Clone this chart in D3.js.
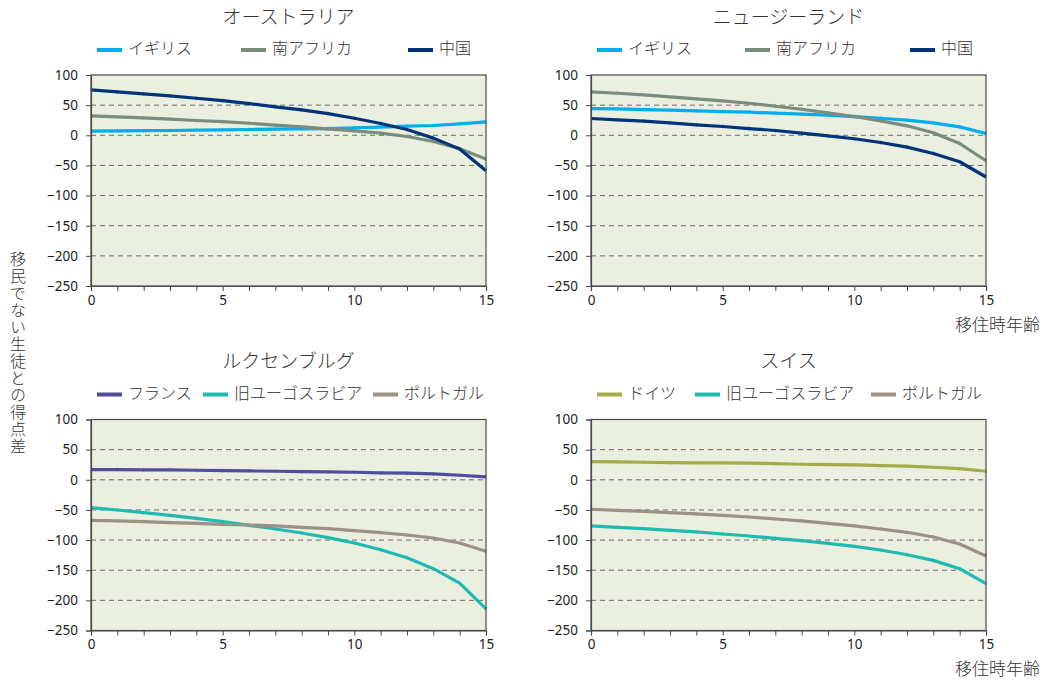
<!DOCTYPE html>
<html><head><meta charset="utf-8">
<script src="https://cdn.jsdelivr.net/npm/d3@7"></script>
<style>body{margin:0;background:#fff} svg{display:block}</style>
</head><body><svg id="c" width="1043" height="680"></svg>
<script>
// ---------- data ----------
const ages = [0,1,2,3,4,5,6,7,8,9,10,11,12,13,14,15];
const xTickLabels = [0,5,10,15];
const yTicks = [100,50,0,-50,-100,-150,-200,-250];
const gridValues = [50,0,-50,-100,-150,-200];
const titles = ["オーストラリア","ニュージーランド","ルクセンブルグ","スイス"];
const xAxisTitle = "移住時年齢";
const yAxisTitle = "移民でない生徒との得点差";

const namesTop = ["イギリス","南アフリカ","中国"];
const namesLux = ["フランス","旧ユーゴスラビア","ポルトガル"];
const namesSwi = ["ドイツ","旧ユーゴスラビア","ポルトガル"];

const aus_uk = [6.8,7.4,7.6,7.9,8.4,9.0,9.6,10.1,10.7,11.2,12.3,13.4,15.1,16.2,19.0,22.3];
const aus_za = [32.2,30.5,28.9,26.7,24.5,22.8,20.0,16.8,14.0,10.7,7.4,3.5,-2.0,-10.3,-22.4,-39.5];
const aus_cn = [75.2,71.9,68.6,65.3,61.4,57.6,52.6,47.1,42.1,36.0,28.3,19.5,9.6,-4.7,-22.9,-58.8];

const nz_uk = [44.3,43.8,42.7,41.6,40.5,39.4,38.3,36.6,35.0,33.3,31.1,28.3,25.0,20.6,14.0,3.0];
const nz_za = [71.9,69.7,66.9,63.6,60.3,57.0,53.1,48.2,43.2,37.2,31.1,24.0,15.7,4.1,-13.6,-42.2];
const nz_cn = [27.8,25.6,23.4,20.6,17.3,14.6,11.2,7.9,3.5,-0.9,-5.8,-11.9,-19.6,-30.1,-43.9,-69.2];

const lux_fr = [16.9,16.9,16.4,16.4,15.8,15.3,14.7,14.2,13.6,13.1,12.5,11.4,10.9,9.7,7.5,4.8];
const lux_yu = [-46.2,-50.1,-54.5,-59.0,-63.9,-69.4,-75.5,-81.6,-88.3,-96.0,-104.9,-116.0,-129.2,-147.5,-171.3,-214.0];
const lux_pt = [-67.2,-68.3,-69.4,-71.1,-72.2,-73.9,-75.0,-76.6,-78.8,-81.0,-84.4,-87.7,-91.6,-96.6,-104.9,-118.7];

const swi_de = [30.2,29.7,29.1,28.6,28.0,28.0,27.5,26.9,25.8,25.3,24.7,23.6,22.5,20.8,18.6,14.2];
const swi_yu = [-76.6,-78.8,-81.0,-83.8,-86.5,-89.9,-93.2,-97.1,-101.0,-105.4,-110.4,-116.5,-124.3,-133.7,-147.5,-172.4];
const swi_pt = [-48.9,-50.6,-52.3,-54.5,-56.7,-59.0,-61.7,-65.0,-68.3,-72.2,-76.6,-81.6,-87.1,-94.9,-106.5,-126.4];

// ---------- styles / layout ----------
const C = {uk:"#00aeef", za:"#7a8c7e", cn:"#003478", fr:"#514c9f", yu:"#1fbab2", pt:"#9c9186", de:"#a2ad48"};
const panels = [
  {title:titles[0], names:namesTop, colors:[C.uk,C.za,C.cn], series:[aus_uk,aus_za,aus_cn], x0:91, y0:75, leg:[6,150,317], xTitle:false},
  {title:titles[1], names:namesTop, colors:[C.uk,C.za,C.cn], series:[nz_uk,nz_za,nz_cn], x0:591, y0:75, leg:[6,154,319], xTitle:true},
  {title:titles[2], names:namesLux, colors:[C.fr,C.yu,C.pt], series:[lux_fr,lux_yu,lux_pt], x0:91, y0:419.5, leg:[6,112,282], xTitle:false},
  {title:titles[3], names:namesSwi, colors:[C.de,C.yu,C.pt], series:[swi_de,swi_yu,swi_pt], x0:591, y0:419.5, leg:[6,104,280], xTitle:true}
];
const W = 395, H = 211;
const FONT = "'Noto Sans CJK JP','Noto Sans',sans-serif";
const NUMFONT = "'Noto Sans','Open Sans',sans-serif";

const svg = d3.select("#c");
const x = d3.scaleLinear().domain([0,15]).range([0,W]);
const y = d3.scaleLinear().domain([-250,100]).range([H,0]);

panels.forEach(p => {
  const g = svg.append("g").attr("transform", `translate(${p.x0},${p.y0})`);
  // title
  svg.append("text").attr("x", p.x0 + W/2).attr("y", p.y0 - 56.5)
    .attr("text-anchor","middle").attr("dominant-baseline","middle")
    .style("font-family",FONT).style("font-size","19px").style("font-weight","300")
    .attr("fill","#333").text(p.title);
  // legend
  p.names.forEach((n,i) => {
    const lx = p.x0 + p.leg[i], ly = p.y0 - 25;
    svg.append("line").attr("x1",lx).attr("x2",lx+25).attr("y1",ly).attr("y2",ly)
      .attr("stroke",p.colors[i]).attr("stroke-width",4);
    svg.append("text").attr("x",lx+31).attr("y",ly).attr("dominant-baseline","middle")
      .style("font-family",FONT).style("font-size","16px").style("font-weight","300")
      .attr("fill","#333").text(n);
  });
  // background
  g.append("rect").attr("width",W).attr("height",H).attr("fill","#ebefe0");
  // grid
  g.selectAll(".grid").data(gridValues).enter().append("line")
    .attr("x1",0).attr("x2",W).attr("y1",d=>y(d)).attr("y2",d=>y(d))
    .attr("stroke","#6e6e6e").attr("stroke-width",1).attr("stroke-dasharray","5,4");
  // series
  const line = d3.line().x((d,i)=>x(ages[i])).y(d=>y(d));
  p.series.forEach((s,i) => {
    g.append("path").datum(s).attr("d",line).attr("fill","none")
      .attr("stroke",p.colors[i]).attr("stroke-width",3.2).attr("stroke-linejoin","round");
    g.selectAll(null).data(s).enter().append("line")
      .attr("x1",(d,j)=>x(ages[j])).attr("x2",(d,j)=>x(ages[j]))
      .attr("y1",d=>y(d)-2).attr("y2",d=>y(d)+2)
      .attr("stroke",p.colors[i]).attr("stroke-width",1).attr("opacity",0.5);
  });
  // frame
  g.append("rect").attr("width",W).attr("height",H).attr("fill","none")
    .attr("stroke","#4a4a4a").attr("stroke-width",1.2);
  // axes
  const ya = g.append("g").call(d3.axisLeft(y).tickValues(yTicks).tickSize(5).tickPadding(8));
  const xa = g.append("g").attr("transform",`translate(0,${H})`)
    .call(d3.axisBottom(x).tickValues(ages).tickSize(5).tickPadding(4)
      .tickFormat(d => xTickLabels.includes(d) ? d : ""));
  [ya,xa].forEach(a => {
    a.select(".domain").attr("stroke","#4a4a4a").attr("stroke-width",1.2);
    a.selectAll(".tick line").attr("stroke","#4a4a4a");
    a.selectAll("text").style("font-family",NUMFONT).style("font-size","13.5px").attr("fill","#222");
  });
  if (p.xTitle) {
    svg.append("text").attr("x",1040).attr("y",p.y0 + H + 40).attr("text-anchor","end")
      .attr("dominant-baseline","middle")
      .style("font-family",FONT).style("font-size","17px").style("font-weight","300")
      .attr("fill","#333").text(xAxisTitle);
  }
});

// vertical y-axis title (upright characters)
svg.append("text").attr("x",18).attr("y",353)
  .attr("text-anchor","middle")
  .style("writing-mode","vertical-rl").style("text-orientation","upright")
  .style("font-family",FONT).style("font-size","16px").style("font-weight","300")
  .style("letter-spacing","1px")
  .attr("fill","#333").text(yAxisTitle);
</script>
</body></html>
